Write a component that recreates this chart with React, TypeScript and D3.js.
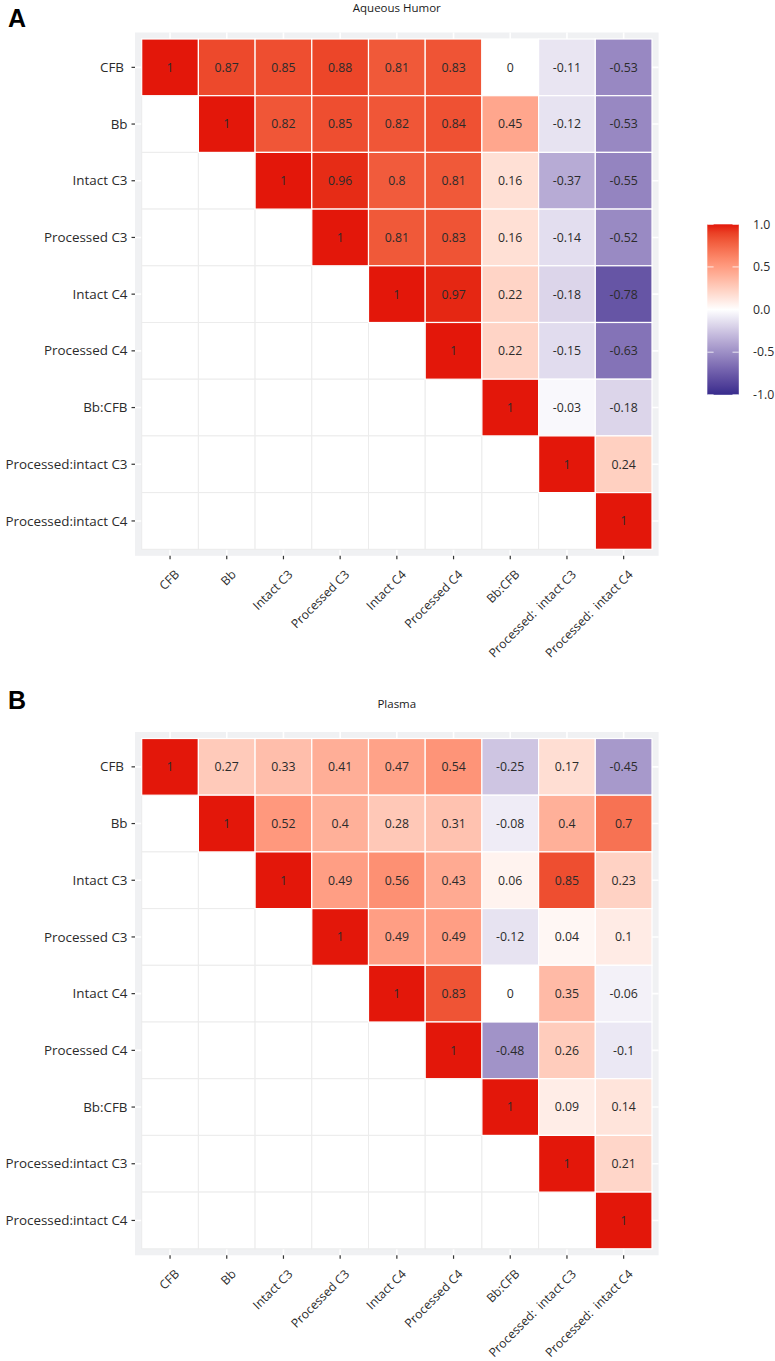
import React from "react";
import * as d3 from "d3";

const variables = [
  "CFB",
  "Bb",
  "Intact C3",
  "Processed C3",
  "Intact C4",
  "Processed C4",
  "Bb:CFB",
  "Processed:intact C3",
  "Processed:intact C4",
];

const yLabels = [
  "CFB ",
  "Bb",
  "Intact C3",
  "Processed C3",
  "Intact C4",
  "Processed C4",
  "Bb:CFB",
  "Processed:intact C3",
  "Processed:intact C4",
];

const xLabels = [
  "CFB",
  "Bb",
  "Intact C3",
  "Processed C3",
  "Intact C4",
  "Processed C4",
  "Bb:CFB",
  "Processed:  intact C3",
  "Processed:  intact C4",
];

// Upper-triangle rows (row i, columns i..8)
const aqueousRows: number[][] = [
  [1, 0.87, 0.85, 0.88, 0.81, 0.83, 0, -0.11, -0.53],
  [1, 0.82, 0.85, 0.82, 0.84, 0.45, -0.12, -0.53],
  [1, 0.96, 0.8, 0.81, 0.16, -0.37, -0.55],
  [1, 0.81, 0.83, 0.16, -0.14, -0.52],
  [1, 0.97, 0.22, -0.18, -0.78],
  [1, 0.22, -0.15, -0.63],
  [1, -0.03, -0.18],
  [1, 0.24],
  [1],
];

const plasmaRows: number[][] = [
  [1, 0.27, 0.33, 0.41, 0.47, 0.54, -0.25, 0.17, -0.45],
  [1, 0.52, 0.4, 0.28, 0.31, -0.08, 0.4, 0.7],
  [1, 0.49, 0.56, 0.43, 0.06, 0.85, 0.23],
  [1, 0.49, 0.49, -0.12, 0.04, 0.1],
  [1, 0.83, 0, 0.35, -0.06],
  [1, -0.48, 0.26, -0.1],
  [1, 0.09, 0.14],
  [1, 0.21],
  [1],
];

const legendTicks = [1, 0.5, 0, -0.5, -1];

const LOW = "#372B8C";
const HIGH = "#E3170A";

const color = d3
  .scaleLinear<string>()
  .domain([-1, 0, 1])
  .range([LOW, "#FFFFFF", HIGH])
  .interpolate(d3.interpolateLab);

const FONT = "'Open Sans', 'Noto Sans', sans-serif";

type PanelProps = { rows: number[][]; top: number; title: string; letter: string; titleY: number; letterY: number };

function Panel({ rows, top, title, letter, titleY, letterY }: PanelProps) {
  const x = d3.scaleBand<string>().domain(variables).range([141.7, 652]).padding(0);
  const y = d3.scaleBand<string>().domain(variables).range([top, top + 510.3]).padding(0);
  const bw = x.bandwidth();
  const bgX0 = 135;
  const bgX1 = 658.6;
  const bgY0 = top - 6.5;
  const bgY1 = top + 510.3 + 6.5;
  const cells: { r: number; c: number; v: number | null }[] = [];
  variables.forEach((_, r) => {
    variables.forEach((__, c) => {
      const v = c >= r ? rows[r][c - r] : null;
      cells.push({ r, c, v });
    });
  });
  return (
    <g>
      <text x={8} y={letterY} fontFamily="'Liberation Sans', Arial, sans-serif" fontWeight="bold" fontSize={25} fill="#000">
        {letter}
      </text>
      <text x={(bgX0 + bgX1) / 2} y={titleY} textAnchor="middle" fontFamily={FONT} fontSize={11.5} fill="#1a1a1a">
        {title}
      </text>
      <rect x={bgX0} y={bgY0} width={bgX1 - bgX0} height={bgY1 - bgY0} fill="#F0F1F3" />
      {variables.map((v) => (
        <line key={"gx" + v} x1={x(v)! + bw / 2} x2={x(v)! + bw / 2} y1={bgY0} y2={bgY1} stroke="#FFFFFF" strokeWidth={1.6} />
      ))}
      {variables.map((v) => (
        <line key={"gy" + v} y1={y(v)! + bw / 2} y2={y(v)! + bw / 2} x1={bgX0} x2={bgX1} stroke="#FFFFFF" strokeWidth={1.6} />
      ))}
      {cells
        .filter((d) => d.v === null)
        .map((d) => (
          <rect
            key={`l${d.r}-${d.c}`}
            x={x(variables[d.c])!}
            y={y(variables[d.r])!}
            width={bw}
            height={y.bandwidth()}
            fill="#FFFFFF"
            stroke="#ECECEC"
            strokeWidth={1}
          />
        ))}
      {cells
        .filter((d) => d.v !== null)
        .map((d) => (
          <g key={`u${d.r}-${d.c}`}>
            <rect
              x={x(variables[d.c])!}
              y={y(variables[d.r])!}
              width={bw}
              height={y.bandwidth()}
              fill={color(d.v as number)}
              stroke="#FFFFFF"
              strokeWidth={1.2}
            />
            <text
              x={x(variables[d.c])! + bw / 2}
              y={y(variables[d.r])! + bw / 2 + 4.4}
              textAnchor="middle"
              fontFamily={FONT}
              fontSize={12.3}
              fill="#2b2b2b"
            >
              {String(d.v)}
            </text>
          </g>
        ))}
      {variables.map((v, i) => (
        <g key={"yl" + v}>
          <line x1={131.5} x2={135} y1={y(v)! + bw / 2} y2={y(v)! + bw / 2} stroke="#333" strokeWidth={1.2} />
          <text
            x={127.5}
            y={y(v)! + bw / 2 + 4.6}
            textAnchor="end"
            fontFamily={FONT}
            fontSize={13.4}
            fill="#2b2b2b"
            style={{ whiteSpace: "pre" }}
          >
            {yLabels[i]}
          </text>
        </g>
      ))}
      {variables.map((v, i) => (
        <g key={"xl" + v}>
          <line x1={x(v)! + bw / 2} x2={x(v)! + bw / 2} y1={bgY1} y2={bgY1 + 3.5} stroke="#333" strokeWidth={1.2} />
          <text
            transform={`translate(${x(v)! + bw / 2 + 10},${bgY1 + 19.5}) rotate(-45)`}
            textAnchor="end"
            fontFamily={FONT}
            fontSize={12.2}
            fill="#2b2b2b"
            style={{ whiteSpace: "pre" }}
          >
            {xLabels[i]}
          </text>
        </g>
      ))}
    </g>
  );
}

function Legend() {
  const y0 = 224.3;
  const y1 = 394.8;
  const ly = d3.scaleLinear().domain([1, -1]).range([y0, y1]);
  const x0 = 707.3;
  const w = 31.5;
  const stops = d3.range(0, 1.0001, 0.05);
  return (
    <g>
      <defs>
        <linearGradient id="legGrad" x1="0" y1="0" x2="0" y2="1">
          {stops.map((t) => (
            <stop key={t} offset={t} stopColor={color(1 - 2 * t)} />
          ))}
        </linearGradient>
      </defs>
      <rect x={x0} y={y0} width={w} height={y1 - y0} fill="url(#legGrad)" />
      {legendTicks.map((t) => (
        <g key={t}>
          <line x1={x0} x2={x0 + 6.3} y1={ly(t)} y2={ly(t)} stroke="#FFFFFF" strokeWidth={1} opacity={0.8} />
          <line x1={x0 + w - 6.3} x2={x0 + w} y1={ly(t)} y2={ly(t)} stroke="#FFFFFF" strokeWidth={1} opacity={0.8} />
          <text x={753} y={ly(t) + 4.3} fontFamily={FONT} fontSize={12.3} fill="#2b2b2b">
            {t === 0 ? "0.0" : t.toFixed(1)}
          </text>
        </g>
      ))}
    </g>
  );
}

export default function App() {
  return (
    <svg
      width={775}
      height={1361}
      viewBox="0 0 775 1361"
      style={{ position: "absolute", left: 0, top: 0, background: "#FFFFFF" }}
    >
      <rect x={0} y={0} width={775} height={1361} fill="#FFFFFF" />
      <Panel rows={aqueousRows} top={39} title="Aqueous Humor" letter="A" titleY={12} letterY={27} />
      <Panel rows={plasmaRows} top={738.5} title="Plasma" letter="B" titleY={708} letterY={709} />
      <Legend />
    </svg>
  );
}
